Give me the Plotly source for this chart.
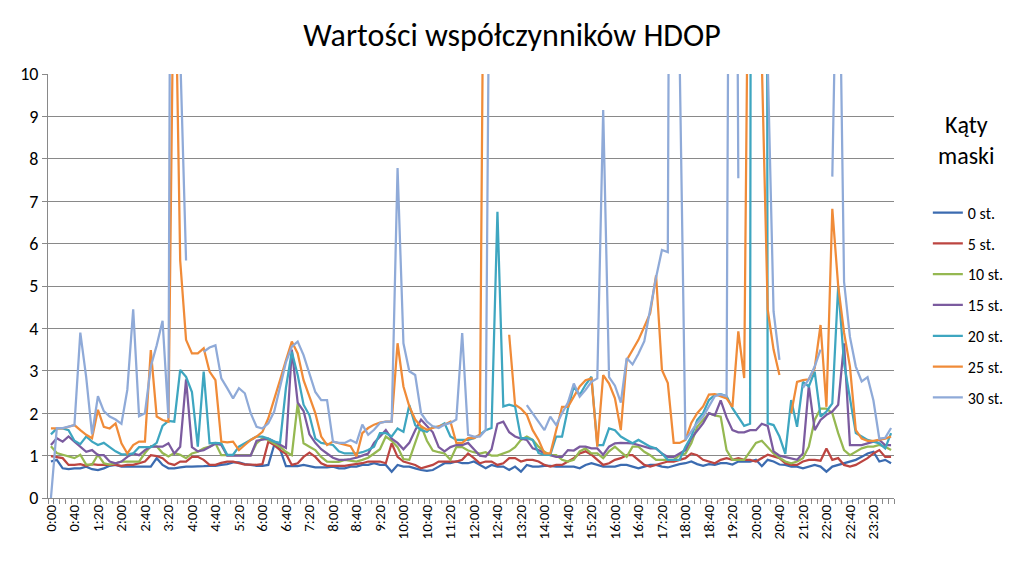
import plotly.graph_objects as go

N = None
times = [f"{h}:{m:02d}" for h in range(24) for m in range(0, 60, 10)]
xdates = [f"2024-01-01 {h:02d}:{m:02d}" for h in range(24) for m in range(0, 60, 10)]

st0 = [0.86, 0.9, 0.7, 0.68, 0.7, 0.7, 0.74, 0.68, 0.66, 0.7, 0.76, 0.78,
       0.74, 0.74, 0.74, 0.74, 0.74, 0.74, 0.94, 0.78, 0.7, 0.7, 0.72, 0.74,
       0.74, 0.74, 0.75, 0.76, 0.76, 0.78, 0.8, 0.84, 0.84, 0.8, 0.78, 0.76,
       0.76, 0.78, 1.25, 1.15, 0.75, 0.75, 0.75, 0.78, 0.75, 0.72, 0.72, 0.72,
       0.74, 0.7, 0.7, 0.74, 0.74, 0.78, 0.78, 0.82, 0.78, 0.78, 0.62, 0.78,
       0.74, 0.74, 0.7, 0.66, 0.64, 0.66, 0.74, 0.82, 0.82, 0.86, 0.82, 0.82,
       0.86, 0.78, 0.7, 0.78, 0.74, 0.74, 0.66, 0.74, 0.62, 0.78, 0.74, 0.74,
       0.76, 0.76, 0.74, 0.74, 0.74, 0.74, 0.7, 0.78, 0.82, 0.78, 0.74, 0.74,
       0.74, 0.78, 0.78, 0.74, 0.7, 0.74, 0.78, 0.78, 0.74, 0.72, 0.76, 0.8,
       0.82, 0.86, 0.8, 0.76, 0.8, 0.78, 0.82, 0.82, 0.79, 0.86, 0.86, 0.86,
       0.9, 0.75, 0.9, 0.86, 0.79, 0.78, 0.74, 0.74, 0.7, 0.74, 0.78, 0.74,
       0.62, 0.74, 0.78, 0.82, 0.86, 0.9, 0.97, 1.05, 1.09, 0.86, 0.9, 0.82]

st5 = [0.99, 0.97, 0.94, 0.78, 0.78, 0.8, 0.76, 0.8, 0.78, 0.78, 0.78, 0.78,
       0.76, 0.78, 0.78, 0.82, 0.86, 1.01, 0.99, 0.94, 0.82, 0.78, 0.86, 0.86,
       0.97, 0.97, 0.9, 0.78, 0.78, 0.83, 0.86, 0.86, 0.82, 0.79, 0.79, 0.78,
       0.8, 1.33, 1.25, 1.13, 1.04, 0.78, 0.82, 0.97, 1.07, 0.97, 0.82, 0.76,
       0.76, 0.76, 0.76, 0.78, 0.8, 0.82, 0.86, 0.86, 0.86, 0.82, 1.29, 0.97,
       0.86, 0.82, 0.78, 0.7, 0.74, 0.78, 0.86, 0.86, 0.86, 0.86, 0.9, 1.05,
       0.94, 0.82, 0.86, 0.86, 0.78, 0.82, 0.94, 0.94, 0.86, 0.9, 0.9, 0.86,
       0.78, 0.74, 0.78, 0.78, 0.86, 0.94, 1.05, 1.1, 1.02, 0.9, 0.78, 0.82,
       0.9, 0.94, 1.01, 1.01, 0.9, 0.78, 0.74, 0.78, 0.82, 0.86, 0.86, 0.9,
       0.94, 1.05, 1.01, 0.9, 0.86, 0.82, 0.9, 0.94, 0.9, 0.94, 0.9, 0.9,
       0.86, 0.94, 1.02, 0.98, 0.94, 0.82, 0.78, 0.78, 0.86, 0.9, 0.9, 0.88,
       1.17, 0.9, 0.94, 0.78, 0.74, 0.78, 0.86, 0.94, 1.05, 1.13, 0.97, 0.97]

st10 = [1.22, 1.06, 1.02, 0.98, 0.94, 1.02, 0.79, 0.79, 1.02, 0.82, 0.79, 0.82,
        0.86, 0.86, 0.86, 0.86, 1.06, 1.22, 1.22, 1.06, 0.98, 1.06, 1.02, 0.94,
        1.05, 1.09, 1.17, 1.21, 1.29, 1.01, 1.01, 1.01, 1.01, 1.01, 1.01, 1.29,
        1.41, 1.37, 1.29, 1.21, 1.09, 1.01, 2.23, 1.29, 1.21, 1.13, 0.97, 0.86,
        0.85, 0.85, 0.9, 0.88, 0.86, 0.9, 0.95, 1.05, 1.15, 1.45, 1.35, 1.2,
        0.92, 0.9, 1.3, 1.7, 1.35, 1.12, 1.08, 1.05, 0.9, 1.2, 1.2, 1.12,
        1.08, 1.05, 1.08, 1.0, 1.0, 1.05, 1.1, 1.2, 1.37, 1.45, 1.37, 1.21,
        1.09, 1.01, 1.01, 0.9, 0.86, 0.9, 1.1, 1.17, 1.05, 1.05, 0.94, 1.1,
        1.21, 1.09, 0.97, 1.21, 1.21, 1.09, 1.01, 0.9, 0.9, 0.9, 0.9, 1.01,
        1.05, 1.29, 1.68, 1.84, 2.0, 1.95, 1.92, 1.13, 0.9, 0.9, 0.9, 1.1,
        1.3, 1.35, 1.2, 1.05, 0.95, 0.86, 0.82, 0.86, 0.94, 1.21, 1.84, 2.11,
        2.11, 2.0, 1.53, 1.13, 1.01, 1.09, 1.17, 1.21, 1.21, 1.25, 1.21, 1.13]

st15 = [1.25, 1.41, 1.33, 1.45, 1.33, 1.21, 1.09, 1.13, 1.01, 1.01, 0.86, 0.82,
        0.86, 0.97, 1.05, 1.01, 1.13, 1.21, 1.21, 1.21, 1.29, 1.05, 1.21, 2.8,
        1.2, 1.1, 1.13, 1.2, 1.28, 1.25, 1.0, 1.0, 1.0, 1.0, 1.0, 1.35,
        1.38, 1.4, 1.33, 1.25, 1.18, 3.5, 2.25, 2.05, 1.5, 1.3, 1.15, 1.05,
        0.95, 0.9, 0.9, 0.92, 0.95, 1.0, 1.05, 1.3, 1.45, 1.6, 1.4, 1.3,
        1.15, 1.3, 1.6, 1.85, 1.7, 1.55, 1.2, 1.1, 1.2, 1.25, 1.25, 1.3,
        1.15, 1.0, 0.98, 1.15, 1.75, 1.8, 1.55, 1.45, 1.4, 1.37, 1.17, 1.13,
        1.05, 1.01, 0.97, 0.97, 1.13, 1.12, 1.21, 1.21, 1.17, 1.17, 1.02, 1.21,
        1.29, 1.3, 1.29, 1.29, 1.25, 1.21, 1.17, 1.17, 1.05, 0.97, 0.97, 1.05,
        1.13, 1.41, 1.6, 1.76, 2.0, 1.95, 2.3, 1.9, 1.6, 1.55, 1.55, 1.6,
        1.6, 1.75, 1.7, 1.1, 1.0, 0.97, 0.94, 0.9, 1.05, 2.65, 1.6, 1.84,
        1.96, 2.04, 2.2, 3.65, 1.25, 1.25, 1.25, 1.29, 1.33, 1.37, 1.25, 1.25]

st20 = [1.5, 1.64, 1.64, 1.6, 1.35, 1.27, 1.45, 1.33, 1.25, 1.3, 1.2, 1.1,
        1.03, 1.03, 1.05, 1.2, 1.2, 1.2, 1.3, 1.7, 1.82, 1.8, 3.02, 2.86,
        2.5, 1.21, 2.98, 1.29, 1.3, 1.29, 1.02, 1.02, 1.21, 1.29, 1.37, 1.45,
        1.45, 1.4, 1.33, 1.3, 2.6, 3.45, 2.9, 2.2, 1.95, 1.4, 1.3, 1.28,
        1.25, 1.1, 1.05, 1.05, 1.05, 1.08, 1.13, 1.21, 1.53, 1.53, 1.45, 1.64,
        1.56, 2.19, 1.72, 1.6, 1.56, 1.68, 1.68, 1.76, 1.45, 1.37, 1.37, 1.37,
        1.41, 1.49, 1.6, 1.65, 6.75, 2.16, 2.2, 2.16, 1.41, 1.41, 1.37, 1.06,
        1.02, 1.02, 1.45, 1.45, 2.11, 2.63, 2.43, 2.67, 2.86, 1.25, 1.25, 1.64,
        1.6, 1.45, 1.37, 1.29, 1.37, 1.29, 1.21, 1.17, 1.05, 0.9, 0.9, 0.9,
        1.21, 1.45, 1.84, 2.0, 2.31, 2.43, 2.45, 2.4, 2.12, 1.92, 1.7, 1.75,
        99, 99, 1.76, 1.72, 1.45, 1.04, 2.31, 1.68, 2.74, 2.63, 2.98, 1.92,
        2.04, 2.23, 5.0, 3.18, 2.39, 1.53, 1.45, 1.37, 1.33, 1.29, 1.17, 1.53]

st25 = [1.64, 1.64, 1.64, 1.68, 1.72, 1.6, 1.49, 1.41, 2.08, 1.68, 1.64, 1.76,
        1.29, 1.05, 1.25, 1.33, 1.33, 3.49, 1.92, 1.84, 1.8, 14, 5.6, 3.73,
        3.41, 3.41, 3.53, 2.98, 2.78, 1.33, 1.31, 1.33, 1.13, 1.25, 1.37, 1.45,
        1.56, 1.88, 2.31, 2.78, 3.25, 3.69, 3.41, 2.78, 2.39, 2.0, 1.45, 1.25,
        1.33, 1.3, 1.26, 1.22, 0.98, 1.53, 1.65, 1.73, 1.78, 1.8, 1.8, 3.65,
        2.63, 2.16, 1.85, 1.69, 1.61, 1.65, 1.69, 1.73, 1.8, 1.3, 1.3, 1.41,
        1.41, 1.49, 20, N, N, N, 3.85, 2.2, 2.11, 1.96, 1.6, 1.37,
        1.05, 1.05, 1.6, 2.15, 2.15, 2.39, 2.63, 2.78, 2.82, 1.21, 2.9, 2.7,
        2.35, 1.6, 3.25, 3.49, 3.73, 4.04, 4.36, 5.25, 3.02, 2.71, 1.3, 1.3,
        1.37, 1.77, 2.0, 2.16, 2.44, 2.45, 2.4, 2.35, 2.15, 3.93, 2.83, 18,
        30, 10.3, 4.45, 3.5, 2.9, N, 2.0, 2.74, 2.78, 2.8, 3.06, 4.08,
        2.15, 6.82, 5.0, 3.9, 3.1, 1.6, 1.4, 1.35, 1.35, 1.38, 1.4, 1.45]

st30 = [0.0, 1.65, 1.65, 1.68, 1.72, 3.9, 2.85, 1.5, 2.4, 2.05, 1.92, 1.85,
        1.75, 2.55, 4.45, 1.93, 2.0, 3.1, 3.6, 4.18, 1.88, 40, 10.5, 5.6,
        N, N, 3.45, 3.55, 3.6, 2.82, 2.59, 2.35, 2.59, 2.47, 2.0, 1.68,
        1.64, 1.76, 2.04, 2.6, 3.2, 3.57, 3.69, 3.37, 2.94, 2.5, 2.31, 2.31,
        1.33, 1.3, 1.3, 1.37, 1.3, 1.73, 1.49, 1.61, 1.77, 1.8, 1.8, 7.78,
        3.65, 2.99, 2.9, 2.0, 1.8, 1.69, 1.65, 1.73, 1.77, 1.85, 3.89, 1.49,
        1.45, 1.45, 1.6, 20, N, N, N, N, N, 2.19, 2.0, 1.8,
        1.6, 1.92, 1.72, 2.0, 2.25, 2.7, 2.39, 2.55, 2.74, 2.82, 9.15, 2.85,
        2.65, 2.25, 3.3, 3.15, 3.4, 3.7, 4.5, 5.2, 5.85, 5.8, 40, 10.5,
        1.37, 1.57, 1.77, 1.92, 2.16, 2.4, 2.44, 2.4, 34, 7.54, N, N,
        N, N, 10.3, 4.4, 3.26, N, N, N, 2.6, 2.8, 3.1, 3.5,
        N, 7.58, 15, 5.1, 3.8, 3.1, 2.75, 2.85, 2.3, 1.4, 1.42, 1.65]

series_names = ["0 st.", "5 st.", "10 st.", "15 st.", "20 st.", "25 st.", "30 st."]
series_values = [st0, st5, st10, st15, st20, st25, st30]
colors = ["#3B6BB0", "#BC4541", "#95B851", "#7B5B9F", "#3EA6C0", "#F08B38", "#8FAAD8"]

FONT = "Carlito, Calibri, Lato, sans-serif"
GRID = "#898989"

fig = go.Figure()
for name, vals, col in zip(series_names, series_values, colors):
    fig.add_trace(go.Scatter(
        x=xdates, y=vals, name=name, mode="lines",
        line=dict(color=col, width=2.25), connectgaps=False,
        legendgroup=name,
    ))

fig.update_layout(
    width=1023, height=562,
    margin=dict(l=37, r=137, t=66, b=72),
    paper_bgcolor="white", plot_bgcolor="white",
    font=dict(family=FONT, color="#000000"),
    title=dict(text="Wartości współczynników HDOP", x=(512 - 8) / 1023, xanchor="center",
               y=1 - 27 / 562, yanchor="middle", yref="container",
               font=dict(size=32, family=FONT, color="#000000")),
    showlegend=True,
    legend=dict(x=1.040, xanchor="left", y=0.713, yanchor="top",
                font=dict(size=16, family=FONT), tracegroupgap=7,
                bgcolor="rgba(0,0,0,0)", itemwidth=30),
    annotations=[dict(text="Kąty<br>maski", xref="paper", yref="paper",
                      x=1.085, y=0.845, xanchor="center", yanchor="middle",
                      showarrow=False, align="center",
                      font=dict(size=24, family=FONT))],
)

fig.update_xaxes(
    type="date",
    range=["2023-12-31 23:55", "2024-01-01 23:55"],
    tickmode="array", tickvals=xdates[::4], ticktext=times[::4],
    tickangle=-90, tickfont=dict(size=15, family=FONT),
    ticks="", showgrid=False, showline=True, linecolor=GRID, linewidth=1,
    minor=dict(ticks="outside", ticklen=5, tickcolor=GRID, tickmode="linear",
               tick0="2023-12-31 23:55", dtick=600000, showgrid=False),
    zeroline=False,
)
fig.update_yaxes(
    range=[0, 10], dtick=1, tick0=0, showgrid=True, gridcolor=GRID, gridwidth=1,
    ticks="outside", ticklen=5, tickcolor=GRID, showline=True, linecolor=GRID,
    tickfont=dict(size=18, family=FONT), zeroline=False,
)

fig.write_html("out.html")
